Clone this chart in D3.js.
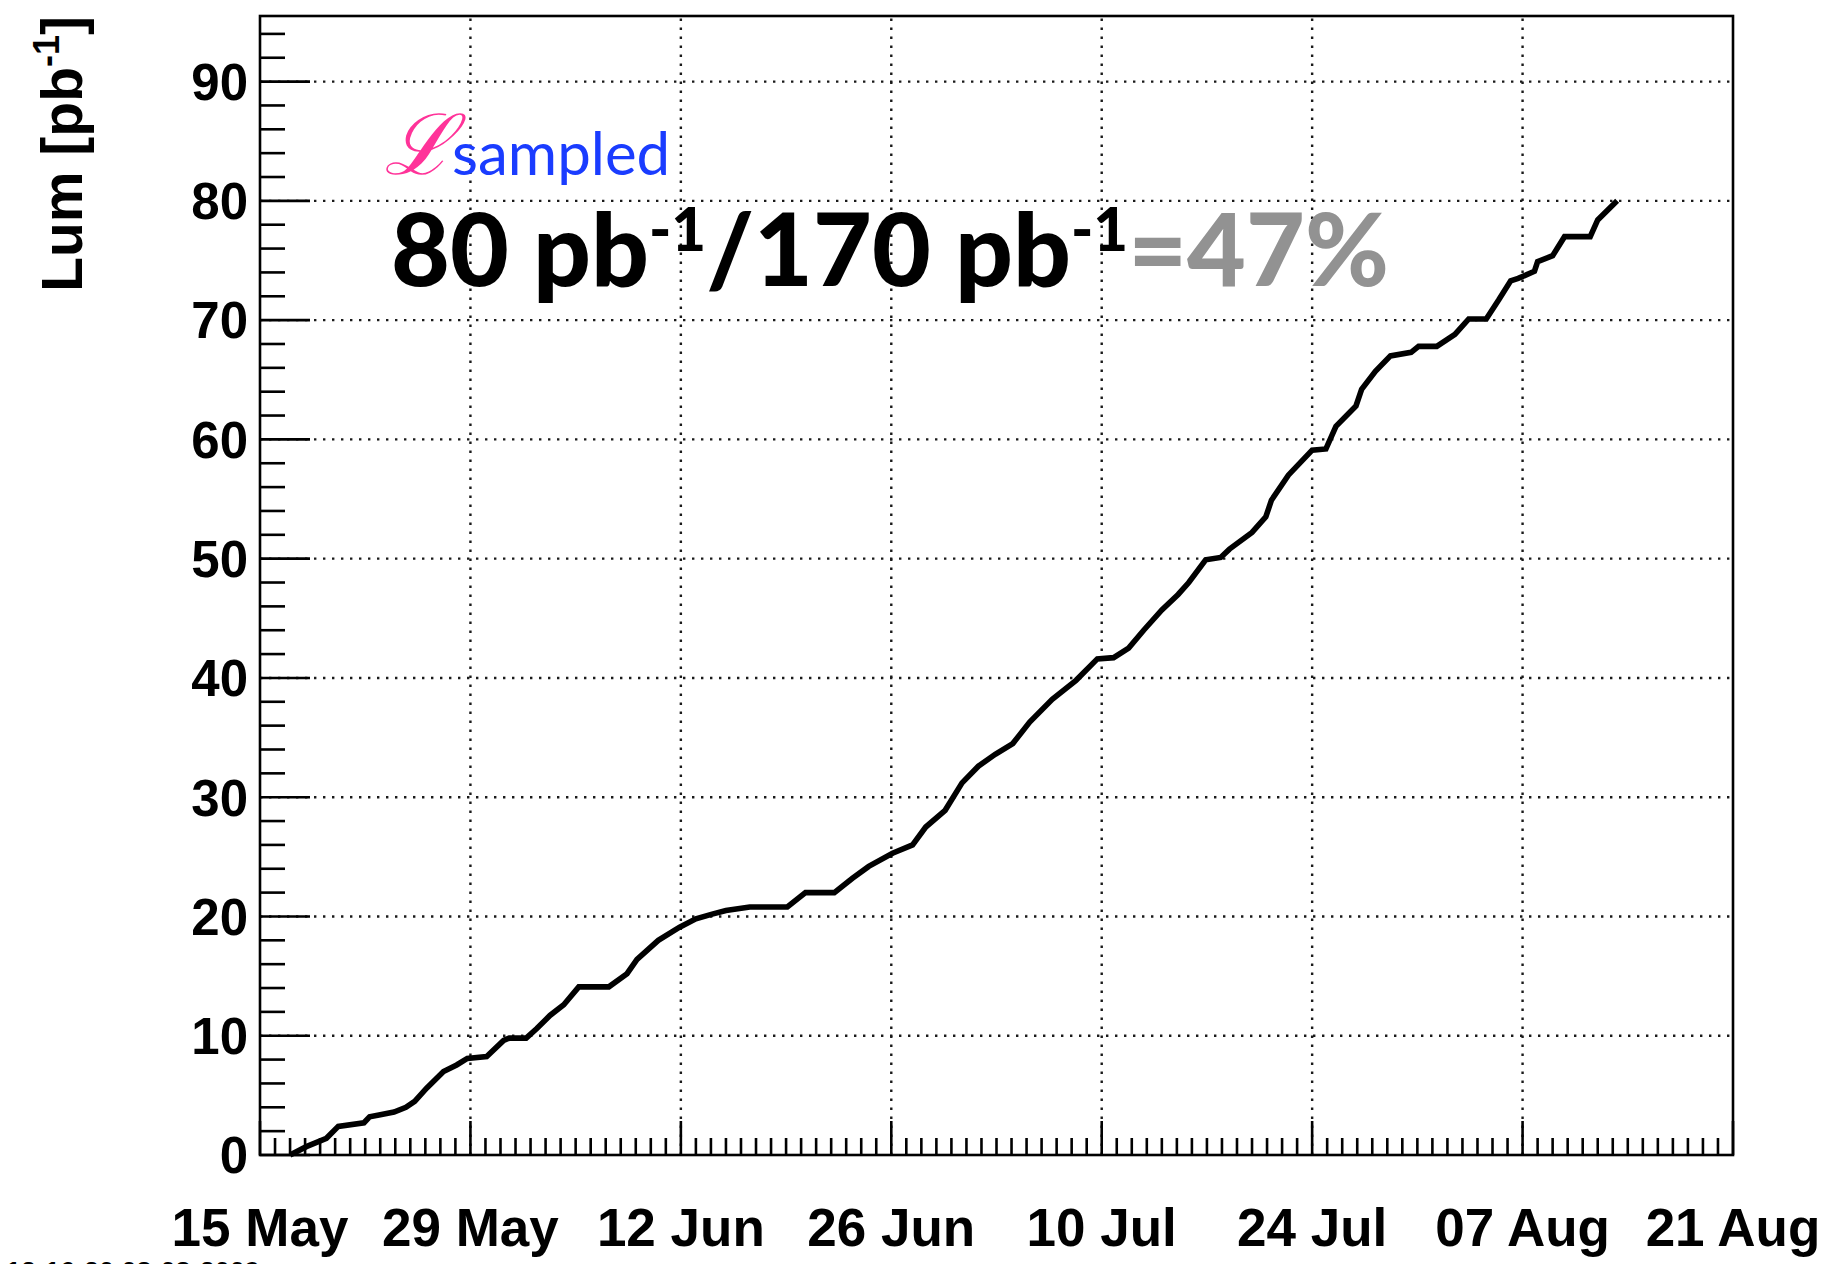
<!DOCTYPE html>
<html lang="en">
<head>
<meta charset="UTF-8">
<title>Lum sampled</title>
<script src="https://d3js.org/d3.v7.min.js"></script>
<style>
  body { margin: 0; background: #fff; }
  svg { display: block; background: #fff; }
  .lbl { font-family: "Liberation Sans", Arial, sans-serif; font-weight: bold; fill: #000; }
  .grid { stroke: #1a1a1a; stroke-width: 2.4; stroke-dasharray: 2.4 6.6; fill: none; }
  .tick { stroke: #000; stroke-width: 2.6; }
  .frame { fill: none; stroke: #000; stroke-width: 2.6; }
  .curve { fill: none; stroke: #000; stroke-width: 5.6; stroke-linejoin: miter; }
  .note { font-family: Lato, "Open Sans", sans-serif; }
</style>
</head>
<body>
<svg width="1830" height="1264"></svg>
<script>
// integrated luminosity
const times = [
  "2009-05-17 00", "2009-05-18 02", "2009-05-19 10", "2009-05-20 05", "2009-05-21 22",
  "2009-05-22 07", "2009-05-22 22", "2009-05-23 22", "2009-05-24 17", "2009-05-25 07",
  "2009-05-26 02", "2009-05-27 05", "2009-05-28 02", "2009-05-28 19", "2009-05-30 02",
  "2009-05-31 05", "2009-05-31 14", "2009-06-01 17", "2009-06-02 10", "2009-06-03 07",
  "2009-06-04 05", "2009-06-05 05", "2009-06-07 05", "2009-06-08 10", "2009-06-09 02",
  "2009-06-10 12", "2009-06-11 22", "2009-06-13 00", "2009-06-14 02", "2009-06-15 00",
  "2009-06-16 14", "2009-06-19 02", "2009-06-20 07", "2009-06-22 05", "2009-06-23 10",
  "2009-06-24 12", "2009-06-26 02", "2009-06-27 10", "2009-06-28 07", "2009-06-29 14",
  "2009-06-30 17", "2009-07-01 19", "2009-07-02 22", "2009-07-04 02", "2009-07-05 05",
  "2009-07-06 17", "2009-07-08 07", "2009-07-09 17", "2009-07-10 19", "2009-07-11 19",
  "2009-07-12 19", "2009-07-14 00", "2009-07-15 02", "2009-07-15 19", "2009-07-16 22",
  "2009-07-17 22", "2009-07-18 12", "2009-07-20 00", "2009-07-20 22", "2009-07-21 07",
  "2009-07-22 10", "2009-07-24 00", "2009-07-24 22", "2009-07-25 14", "2009-07-26 22",
  "2009-07-27 07", "2009-07-28 05", "2009-07-29 05", "2009-07-30 14", "2009-07-31 02",
  "2009-08-01 07", "2009-08-02 12", "2009-08-03 10", "2009-08-04 14", "2009-08-05 10",
  "2009-08-06 05", "2009-08-06 17", "2009-08-07 19", "2009-08-08 00", "2009-08-09 00",
  "2009-08-09 19", "2009-08-11 12", "2009-08-12 00", "2009-08-13 07"
];
const lum = [
  0, 0.7, 1.4, 2.4, 2.7,
  3.2, 3.35, 3.6, 4.0, 4.5,
  5.6, 7.0, 7.55, 8.1, 8.25,
  9.6, 9.8, 9.8, 10.6, 11.7,
  12.6, 14.1, 14.1, 15.2, 16.4,
  18.0, 19.1, 19.8, 20.2, 20.5,
  20.8, 20.8, 22.0, 22.0, 23.2,
  24.2, 25.3, 26.0, 27.5, 28.9,
  31.2, 32.6, 33.6, 34.5, 36.3,
  38.2, 39.8, 41.6, 41.7, 42.5,
  44.0, 45.7, 47.0, 48.0, 49.9,
  50.1, 50.8, 52.2, 53.5, 54.9,
  57.0, 59.1, 59.2, 61.1, 62.8,
  64.2, 65.7, 67.0, 67.3, 67.8,
  67.8, 68.8, 70.1, 70.1, 71.7,
  73.3, 73.5, 74.1, 74.9, 75.4,
  77.0, 77.0, 78.4, 80.0
];
const xTicks = ["2009-05-15", "2009-05-29", "2009-06-12", "2009-06-26",
                "2009-07-10", "2009-07-24", "2009-08-07", "2009-08-21"];
const yTicks = [0, 10, 20, 30, 40, 50, 60, 70, 80, 90];
const xRange = ["2009-05-15", "2009-08-21"];
const yMax = 95.5;

const parseT = d3.timeParse("%Y-%m-%d %H");
const parseD = d3.timeParse("%Y-%m-%d");
const fmt = d3.timeFormat("%d %b");

const L = 260, R = 1733, T = 16, B = 1155;
const svg = d3.select("svg");

const x = d3.scaleTime().domain(xRange.map(parseD)).range([L, R]);
const y = d3.scaleLinear().domain([0, yMax]).range([B, T]);

// grid
svg.append("g").selectAll("line").data(yTicks.filter(v => v > 0)).join("line")
  .attr("class", "grid")
  .attr("x1", L).attr("x2", R).attr("y1", d => y(d)).attr("y2", d => y(d));
svg.append("g").selectAll("line").data(xTicks.slice(1, -1).map(parseD)).join("line")
  .attr("class", "grid")
  .attr("x1", d => x(d)).attr("x2", d => x(d)).attr("y1", B).attr("y2", T);

// y ticks (minor every 2)
const yMinor = d3.range(0, yMax, 2);
svg.append("g").selectAll("line").data(yMinor).join("line")
  .attr("class", "tick")
  .attr("x1", L).attr("x2", d => L + (d % 10 === 0 ? 50 : 25))
  .attr("y1", d => y(d)).attr("y2", d => y(d));

// x ticks (minor every day)
const xDays = d3.timeDay.range(x.domain()[0], d3.timeDay.offset(x.domain()[1], 1));
const majorSet = new Set(xTicks.map(s => +parseD(s)));
svg.append("g").selectAll("line").data(xDays).join("line")
  .attr("class", "tick")
  .attr("x1", d => x(d)).attr("x2", d => x(d))
  .attr("y1", B).attr("y2", d => B - (majorSet.has(+d) ? 34 : 17));

// tick labels
svg.append("g").selectAll("text").data(yTicks).join("text")
  .attr("class", "lbl")
  .attr("x", 248).attr("y", d => y(d)).attr("dy", "0.36em")
  .attr("text-anchor", "end").attr("font-size", 51)
  .text(d => d);
svg.append("g").selectAll("text").data(xTicks.map(parseD)).join("text")
  .attr("class", "lbl")
  .attr("x", d => x(d)).attr("y", 1246)
  .attr("text-anchor", "middle").attr("font-size", 53)
  .text(d => fmt(d));

// axis title
const yt = svg.append("text").attr("class", "lbl")
  .attr("transform", `translate(82,${T}) rotate(-90)`)
  .attr("text-anchor", "end").attr("font-size", 57);
yt.append("tspan").text("Lum [pb");
yt.append("tspan").attr("font-size", 36).attr("dy", -23).text("-1");
yt.append("tspan").attr("dy", 23).text("]");

// curve
const pts = times.map((t, i) => [parseT(t), lum[i]]);
svg.append("path")
  .attr("class", "curve")
  .attr("d", d3.line().x(d => x(d[0])).y(d => y(d[1]))(pts));

// frame
svg.append("rect").attr("class", "frame")
  .attr("x", L).attr("y", T).attr("width", R - L).attr("height", B - T);

// annotation
svg.append("text").attr("x", 384).attr("y", 174)
  .attr("font-family", "DejaVu Serif, serif").attr("font-style", "italic")
  .attr("font-size", 84).attr("fill", "#ff3399").text("\u2112");
svg.append("text").attr("class", "note").attr("x", 452).attr("y", 175)
  .attr("font-size", 60).attr("fill", "#1a3cff").text("sampled");

const big = svg.append("text").attr("class", "note")
  .attr("x", 391).attr("y", 286).attr("font-weight", 900).attr("font-size", 88);
big.append("tspan").attr("fill", "#000").text("80 pb");
big.append("tspan").attr("fill", "#000").attr("font-size", 52).attr("dy", -30).text("-1");
big.append("tspan").attr("fill", "#000").attr("dy", 30).text("/170 pb");
big.append("tspan").attr("fill", "#000").attr("font-size", 52).attr("dy", -30).text("-1");
big.append("tspan").attr("fill", "#929292").attr("dy", 30).text("=47%");
// fit the line to the width seen in the reference
const w = big.node().getComputedTextLength();
const k = 998 / w;
big.attr("font-size", 88 * k);
big.selectAll("tspan").each(function () {
  const t = d3.select(this);
  if (t.attr("font-size")) t.attr("font-size", +t.attr("font-size") * k);
  if (t.attr("dy")) t.attr("dy", +t.attr("dy") * k);
});

// timestamp, cut off at the bottom edge as in the original
svg.append("text").attr("class", "lbl").attr("x", 6).attr("y", 1281)
  .attr("font-size", 27).text("12:16:20 08-08-2009");
</script>
</body>
</html>
